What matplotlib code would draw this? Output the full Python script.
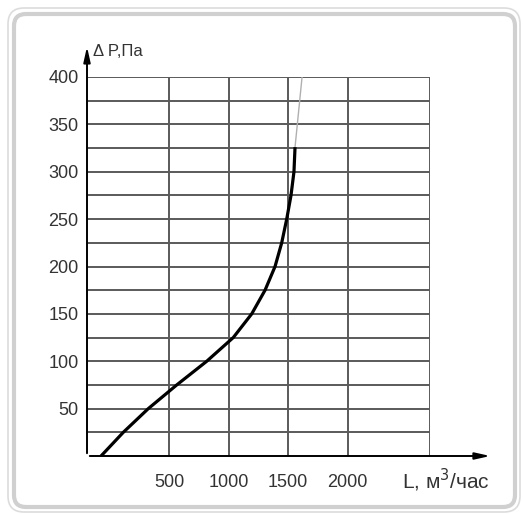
import matplotlib
matplotlib.use('Agg')
import matplotlib.pyplot as plt
from matplotlib.patches import FancyBboxPatch

plt.rcParams['font.family'] = ['Liberation Sans', 'DejaVu Sans']

# curve (L in m3/h, dP in Pa)
flow = [-71, 116, 326, 565, 817, 1040, 1195, 1307, 1391, 1447, 1489, 1525, 1550, 1559]
dp = [0, 25, 50, 75, 100, 125, 150, 175, 200, 225, 250, 275, 300, 326]
# thin grey continuation of the curve
ext_flow = [1559, 1618]
ext_dp = [326, 400]

x_ticks = [500, 1000, 1500, 2000]
y_ticks = [50, 100, 150, 200, 250, 300, 350, 400]
y_grid = list(range(25, 401, 25))
x_min, x_max = -189, 2693

fig = plt.figure(figsize=(5.24, 5.14), dpi=100)

# rounded frame
bg = fig.add_axes([0, 0, 1, 1], zorder=0)
bg.set_xlim(0, 524)
bg.set_ylim(514, 0)
bg.axis('off')
bg.add_patch(FancyBboxPatch((8, 8), 512, 504, boxstyle='round,pad=0,rounding_size=16',
                            fc='white', ec='#dcdcdc', lw=1.2))
bg.add_patch(FancyBboxPatch((14, 14), 501, 493, boxstyle='round,pad=0,rounding_size=12',
                            fc='white', ec='#d0d0d0', lw=3))

ax = fig.add_axes([87 / 524, (514 - 456) / 514, (430 - 87) / 524, (456 - 77) / 514], zorder=1)
ax.patch.set_alpha(0)
ax.set_xlim(x_min, x_max)
ax.set_ylim(0, 400)
for s in ax.spines.values():
    s.set_visible(False)

grid_c = '#5a5a5a'
for y in y_grid:
    ax.plot([x_min, x_max], [y, y], color=grid_c, lw=1.4, zorder=1)
for x in x_ticks + [x_max]:
    ax.plot([x, x], [0, 400], color=grid_c, lw=1.4, zorder=1)

ax.plot(ext_flow, ext_dp, color='#b0b0b0', lw=1, zorder=2)
ax.plot(flow, dp, color='black', lw=2.3, zorder=3, solid_capstyle='butt', solid_joinstyle='round')

# axes arrows
ax.annotate('', xy=(x_min, 435), xytext=(x_min, 0), annotation_clip=False,
            arrowprops=dict(arrowstyle='-|>,head_length=0.9,head_width=0.2', color='black', lw=1.4))
ax.annotate('', xy=(3223, 0), xytext=(x_min, 0), annotation_clip=False,
            arrowprops=dict(arrowstyle='-|>,head_length=0.9,head_width=0.2', color='black', lw=1.4))

ax.set_xticks(x_ticks)
ax.set_yticks(y_ticks)
ax.tick_params(length=0, labelsize=13, labelcolor='#333333')
ax.tick_params(axis='y', pad=6)
ax.tick_params(axis='x', pad=13)

ax.text(x_min + 50, 427, '\u0394 P,\u041f\u0430', fontsize=12, color='#333333', va='center', ha='left')
ax.text(3200, -26, 'L, \u043c$^3$/\u0447\u0430\u0441', fontsize=15, color='#333333', va='center', ha='right')

fig.savefig('out.png', dpi=100)
